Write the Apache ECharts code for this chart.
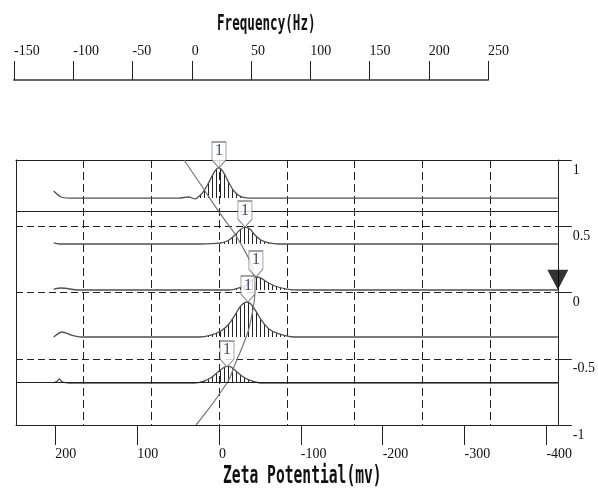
<!DOCTYPE html>
<html>
<head>
<meta charset="utf-8">
<script src="https://cdn.jsdelivr.net/npm/echarts@6/dist/echarts.min.js"></script>
<style>
html, body { margin: 0; padding: 0; background: #fff; }
#chart { width: 598px; height: 488px; }
</style>
</head>
<body>
<div id="chart"></div>
<script>
// axes
var freqTicks = [-150, -100, -50, 0, 50, 100, 150, 200, 250];
var zetaTicks = [200, 100, 0, -100, -200, -300, -400];
var potTicks = [1, 0.5, 0, -0.5, -1];
var zetaMin = -414, zetaMax = 248;

// spectra  [zeta mV, level]
var spec1 = [[202,0.766],[193,0.721],[183,0.713],[49,0.713],[37,0.721],[29,0.706],[24,0.728],[19.5,0.758],[13.4,0.819],[8.5,0.879],[4.9,0.917],[1.2,0.94],[-2.4,0.932],[-7.3,0.887],[-12.2,0.826],[-18.3,0.766],[-25.6,0.728],[-36.6,0.713],[-414,0.713]];
var spec2 = [[202,0.374],[195,0.366],[24,0.366],[-2.4,0.374],[-12.2,0.396],[-19.5,0.434],[-25.6,0.472],[-31.7,0.494],[-37.8,0.479],[-43.9,0.434],[-51.2,0.396],[-61,0.374],[-73,0.366],[-414,0.366]];
var spec3 = [[202,0.026],[193,0.034],[171,0.019],[-12.2,0.019],[-24.4,0.034],[-34.1,0.057],[-40.2,0.094],[-45.1,0.117],[-51.2,0.109],[-58.5,0.079],[-68.3,0.049],[-82.9,0.026],[-97.6,0.019],[-414,0.019]];
var spec4 = [[202,-0.336],[191.5,-0.298],[180.5,-0.321],[168,-0.336],[24.4,-0.336],[9.8,-0.321],[-2.4,-0.291],[-12.2,-0.238],[-19.5,-0.17],[-25.6,-0.109],[-30.5,-0.079],[-34.1,-0.072],[-39,-0.087],[-45.1,-0.14],[-52.4,-0.215],[-61,-0.275],[-73.2,-0.313],[-91.5,-0.336],[-414,-0.336]];
var spec5 = [[202,-0.683],[197.6,-0.668],[195,-0.653],[191.5,-0.675],[183,-0.683],[30.5,-0.683],[18.3,-0.668],[8.5,-0.638],[1.2,-0.6],[-4.9,-0.57],[-9.8,-0.555],[-14.6,-0.562],[-20.7,-0.592],[-28,-0.63],[-36.6,-0.66],[-51.2,-0.683],[-414,-0.683]];
var baseLevels = [0.713, 0.366, 0.019, -0.336, -0.683];
var hatchFrom = 60; // hatched peak region starts below this zeta

var peakMarks = [[0,0.94],[-31.7,0.494],[-45.1,0.117],[-35.4,-0.072],[-9.8,-0.562]];
var stationCurve = [[42.7,1.0],[24,0.83],[0,0.608],[-26.8,0.366],[-42.7,0.117],[-43.9,0.019],[-39,-0.208],[-34.1,-0.321],[-18.3,-0.562],[-9.8,-0.683],[28,-1.0]];
var solidLevels = [0.608, -0.683];
var cursor = [[-414, 0.02]];

var hatch = document.createElement('canvas');
hatch.width = 4; hatch.height = 4;
var hctx = hatch.getContext('2d');
hctx.fillStyle = '#222';
hctx.fillRect(0, 0, 1, 4);

var serif = 'Liberation Serif';
var frame = { color: '#222', width: 1 };
var spectra = [spec1, spec2, spec3, spec4, spec5];
var series = [];
for (var i = 0; i < spectra.length; i++) {
	series.push({
		type: 'line',
		data: spectra[i],
		smooth: 0.3,
		symbol: 'none',
		lineStyle: { color: '#505050', width: 1.3 },
		z: 3,
		markLine: i === 0 ? {
			silent: true,
			symbol: 'none',
			label: { show: false },
			lineStyle: { color: '#222', type: 'solid', width: 1 },
			data: solidLevels.map(function (v) { return { yAxis: v }; })
		} : undefined
	});
	series.push({
		type: 'line',
		data: spectra[i].filter(function (p) { return p[0] < hatchFrom; }),
		smooth: 0.3,
		symbol: 'none',
		lineStyle: { width: 0 },
		areaStyle: { origin: baseLevels[i], color: { image: hatch, repeat: 'repeat' }, opacity: 1 },
		z: 2
	});
}
series.push({
	type: 'line',
	data: stationCurve,
	smooth: 0.5,
	symbol: 'none',
	lineStyle: { color: '#777', width: 1.2 },
	z: 4
});
series.push({
	type: 'scatter',
	data: peakMarks,
	symbol: 'path://M0,0L14,0L14,18L7,26L0,18Z',
	symbolSize: [14, 26],
	symbolOffset: [0, -13],
	itemStyle: { color: '#fff', borderColor: '#666', borderWidth: 1 },
	label: {
		show: true, formatter: '1', position: 'inside', offset: [0, -4],
		fontFamily: serif, fontSize: 17, color: '#1b2450'
	},
	clip: false,
	z: 6
});
series.push({
	type: 'scatter',
	data: cursor,
	symbol: 'triangle',
	symbolSize: [21, 20],
	symbolRotate: 180,
	symbolOffset: [0, -10],
	itemStyle: { color: '#000' },
	clip: false,
	z: 6
});

var option = {
	animation: false,
	backgroundColor: '#fff',
	grid: [
		{ left: 16, top: 160, width: 543, height: 265 },
		{ left: 14, top: 80, width: 474, height: 1 }
	],
	xAxis: [
		{
			type: 'value', gridIndex: 0, inverse: true, min: zetaMin, max: zetaMax,
			position: 'bottom',
			axisLine: { show: true, onZero: false, lineStyle: frame },
			axisTick: { show: true, length: 20, customValues: zetaTicks, lineStyle: frame },
			axisLabel: { customValues: zetaTicks, align: 'left', margin: 22, fontFamily: serif, fontSize: 14, color: '#111' },
			splitLine: { show: false }
		},
		{
			type: 'value', gridIndex: 1, min: freqTicks[0], max: freqTicks[freqTicks.length - 1], interval: 50,
			position: 'top',
			axisLine: { show: true, onZero: false, lineStyle: { color: '#666', width: 2 } },
			axisTick: { show: true, length: 19, lineStyle: frame },
			axisLabel: { align: 'left', margin: 22, fontFamily: serif, fontSize: 14, color: '#111' },
			splitLine: { show: false }
		},
		{
			// 8 equal divisions of the frame, top border
			type: 'value', gridIndex: 0, min: 0, max: 8, interval: 1, position: 'top',
			axisLine: { show: true, onZero: false, lineStyle: frame },
			axisTick: { show: false }, axisLabel: { show: false },
			splitLine: { show: true, lineStyle: { color: '#222', type: [8, 4], width: 1 } }
		}
	],
	yAxis: [
		{
			type: 'value', gridIndex: 0, position: 'right', min: potTicks[potTicks.length - 1], max: potTicks[0], interval: 0.5,
			axisLine: { show: true, onZero: false, lineStyle: frame },
			axisTick: { show: true, length: 14, lineStyle: frame },
			axisLabel: { margin: 15, verticalAlign: 'top', padding: [3, 0, 0, 0], fontFamily: serif, fontSize: 14, color: '#111' },
			splitLine: { show: true, lineStyle: { color: '#222', type: [7, 4], width: 1 } }
		},
		{ type: 'value', gridIndex: 1, show: false },
		{
			// left border
			type: 'value', gridIndex: 0, position: 'left', min: -1, max: 1,
			axisLine: { show: true, onZero: false, lineStyle: frame },
			axisTick: { show: false }, axisLabel: { show: false }, splitLine: { show: false }
		}
	],
	graphic: [
		{
			type: 'text', x: 217, y: 25, scaleX: 0.6,
			style: { text: 'Frequency(Hz)', font: 'bold 21px "DejaVu Sans Mono"', fill: '#111', textVerticalAlign: 'middle' }
		},
		{
			type: 'text', x: 223, y: 477, scaleX: 0.61,
			style: { text: 'Zeta Potential(mv)', font: 'bold 24px "DejaVu Sans Mono"', fill: '#111', textVerticalAlign: 'middle' }
		}
	],
	series: series
};

var myChart = echarts.init(document.getElementById('chart'));
myChart.setOption(option);
</script>
</body>
</html>
